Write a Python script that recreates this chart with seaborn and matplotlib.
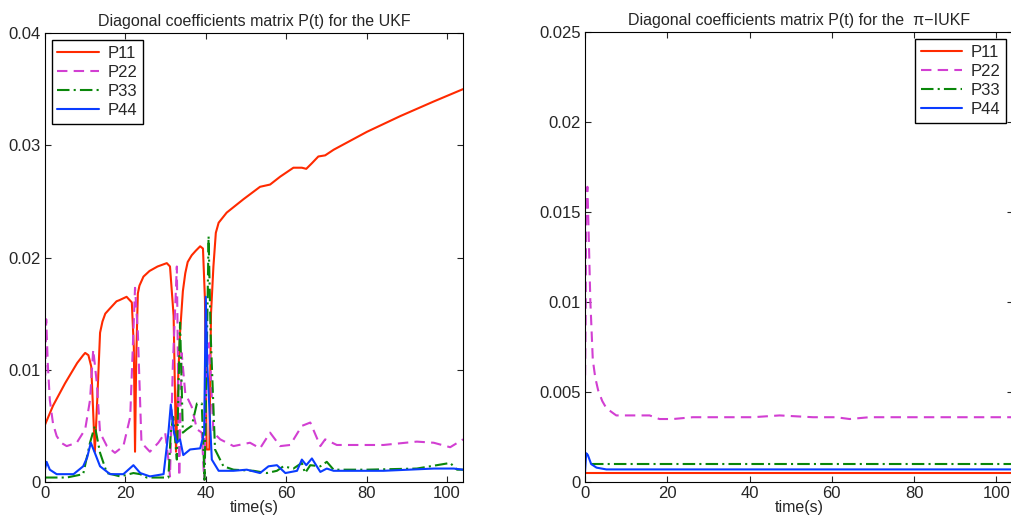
import matplotlib
matplotlib.use("Agg")
import matplotlib.pyplot as plt
import seaborn as sns

# UKF (left panel)
t_p11 = [0, 2, 5, 8, 9.5, 10, 10.8, 11.5, 11.9, 12.4, 13, 13.7, 14.3, 15, 16, 17.8, 18.5, 20.3,
         21.6, 22.1, 22.4, 22.7, 23.1, 23.5, 24.5, 26, 28, 30.3, 31.1, 32, 32.6, 33.1, 33.6,
         34.3, 34.9, 35.5, 36.5, 37.5, 38.6, 39.3, 39.8, 40.2, 40.9, 41.3, 41.9, 42.5, 43.2,
         45.2, 49.4, 53.5, 56, 58.5, 61.8, 63.9, 65, 66.4, 68, 69.7, 71.8, 80.1, 88.4, 96.7, 104]
p11 = [0.0051, 0.0068, 0.0088, 0.0106, 0.0113, 0.0115, 0.0113, 0.0103, 0.0070, 0.0027, 0.0073,
       0.0133, 0.0143, 0.0150, 0.0154, 0.0161, 0.0162, 0.0165, 0.0160, 0.0120, 0.0027, 0.0110,
       0.0168, 0.0175, 0.0183, 0.0188, 0.0192, 0.0195, 0.0192, 0.0148, 0.0027, 0.0090, 0.0133,
       0.0170, 0.0186, 0.0196, 0.0202, 0.0206, 0.0210, 0.0208, 0.0162, 0.0029, 0.0029, 0.0150,
       0.0192, 0.0222, 0.0231, 0.0240, 0.0252, 0.0263, 0.0265, 0.0272, 0.0280, 0.0280, 0.0279,
       0.0284, 0.0290, 0.0291, 0.0296, 0.0312, 0.0326, 0.0339, 0.0350]

t_p22 = [0, 0.3, 0.7, 1.2, 2.0, 2.9, 4, 5.4, 7.9, 10, 11.2, 12, 12.9, 13.7, 15.4, 17.4, 19.5,
         21.2, 22.4, 23.1, 24, 26.1, 28.2, 29.9, 30.7, 31.1, 31.8, 32.8, 33.4, 34, 34.9, 36.5,
         37.8, 39, 39.6, 40.1, 40.9, 41.9, 43.6, 46.9, 51, 53.5, 56, 58.5, 61, 63.9, 66, 68.5,
         69.7, 72.6, 75.9, 84.2, 92.5, 96.7, 100.8, 104]
p22 = [0.0080, 0.0145, 0.0105, 0.0073, 0.0052, 0.0041, 0.0035, 0.0032, 0.0035, 0.0047, 0.0073,
       0.0118, 0.0088, 0.0044, 0.0032, 0.0026, 0.0032, 0.0058, 0.0173, 0.0133, 0.0035, 0.0027,
       0.0035, 0.0044, 0.0020, 0.0005, 0.0103, 0.0192, 0.0005, 0.0115, 0.0079, 0.0067, 0.0047,
       0.0044, 0.0002, 0.0094, 0.0124, 0.0044, 0.0038, 0.0032, 0.0035, 0.0030, 0.0044, 0.0032,
       0.0033, 0.0050, 0.0053, 0.0032, 0.0038, 0.0033, 0.0033, 0.0033, 0.0036, 0.0035, 0.0031,
       0.0038]

t_p33 = [0, 5.4, 9.5, 11.2, 12.4, 13.7, 15.4, 18.7, 22, 23.7, 25.3, 30.7, 31.3, 31.9, 32.8, 33.6,
         34.3, 35.3, 36.5, 37.8, 39, 39.7, 40.2, 40.7, 41.2, 42.3, 44.4, 46.9, 51.9, 55.2, 57.7,
         59.3, 61.8, 63.9, 64.7, 66, 68.5, 70.1, 71.8, 80.1, 92.5, 100.8, 102.5, 104]
p33 = [0.0004, 0.0004, 0.0007, 0.0035, 0.0050, 0.0026, 0.0008, 0.0005, 0.0008, 0.0007, 0.0004,
       0.0004, 0.0044, 0.0058, 0.0020, 0.0142, 0.0044, 0.0047, 0.0050, 0.0070, 0.0070, 0.0002,
       0.0103, 0.0219, 0.0133, 0.0029, 0.0014, 0.0011, 0.0010, 0.0008, 0.0010, 0.0014, 0.0012,
       0.0017, 0.0008, 0.0015, 0.0014, 0.0018, 0.0011, 0.0011, 0.0012, 0.0017, 0.0011, 0.0011]

t_p44 = [0, 0.4, 1.2, 2.9, 7.1, 9.5, 10.5, 11.4, 12.4, 13.7, 16.2, 19.5, 22, 23.7, 26.1, 29.5,
         30.7, 31.3, 32.1, 32.8, 33.6, 34.4, 36.1, 38.6, 39.6, 40, 40.4, 41.5, 43.2, 46.9, 50.2,
         53.5, 55.6, 57.7, 59.8, 62.7, 63.9, 65, 66.4, 68.5, 70.1, 71.8, 84.2, 96.7, 101.7, 104]
p44 = [0.0011, 0.0018, 0.0011, 0.0007, 0.0007, 0.0014, 0.0022, 0.0035, 0.0026, 0.0014, 0.0007,
       0.0007, 0.0015, 0.0008, 0.0005, 0.0007, 0.0044, 0.0069, 0.0044, 0.0035, 0.0038, 0.0024,
       0.0029, 0.0030, 0.0044, 0.0165, 0.0103, 0.0020, 0.0010, 0.0010, 0.0011, 0.0008, 0.0014,
       0.0015, 0.0008, 0.0010, 0.0020, 0.0015, 0.0021, 0.0009, 0.0012, 0.0010, 0.0010, 0.0012,
       0.0012, 0.0011]

# pi-IUKF (right panel)
t_r11 = [0, 104]
r11 = [0.0005, 0.0005]
t_r22 = [0, 0.16, 0.3, 0.6, 0.9, 1.3, 1.9, 2.5, 3.2, 4.2, 5.2, 7.6, 10.9, 15.7, 18.1, 21.4,
         26.2, 32.7, 40.8, 47.3, 55.4, 61, 64.3, 69.1, 81.3, 100.7, 104]
r22 = [0.0050, 0.0090, 0.0157, 0.0164, 0.0138, 0.0101, 0.0068, 0.0058, 0.0051, 0.0045, 0.0041,
       0.0037, 0.0037, 0.0037, 0.0035, 0.0035, 0.0036, 0.0036, 0.0036, 0.0037, 0.0036, 0.0036,
       0.0035, 0.0036, 0.0036, 0.0036, 0.0036]
t_r33 = [1.5, 104]
r33 = [0.001, 0.001]
t_r44 = [0, 0.3, 0.7, 1.5, 2.8, 5.2, 8.4, 104]
r44 = [0.0005, 0.0016, 0.0015, 0.0010, 0.0008, 0.0007, 0.0007, 0.0007]

names = ["P11", "P22", "P33", "P44"]
colors = ["#ff2a00", "#d23fd2", "#0a870a", "#0a3cff"]
styles = ["-", (0, (5, 3)), (0, (6, 2, 1, 2)), "-"]

sns.set_style("ticks")
plt.rcParams["font.family"] = ["Liberation Sans", "DejaVu Sans"]

fig = plt.figure(figsize=(10.11, 5.29), dpi=100)
ax1 = fig.add_axes([0.0445, 0.0888, 0.4135, 0.8488])
ax2 = fig.add_axes([0.5786, 0.0888, 0.4233, 0.8507])

left = [(t_p11, p11), (t_p22, p22), (t_p33, p33), (t_p44, p44)]
right = [(t_r11, r11), (t_r22, r22), (t_r33, r33), (t_r44, r44)]

for ax, series in [(ax1, left), (ax2, right)]:
    for (t, v), name, c, ls in zip(series, names, colors, styles):
        sns.lineplot(x=t, y=v, ax=ax, color=c, linestyle=ls, linewidth=1.5,
                     label=name, sort=False, estimator=None)

ax1.set_xlim(0, 104)
ax1.set_ylim(0, 0.04)
ax1.set_yticks([0, 0.01, 0.02, 0.03, 0.04], ["0", "0.01", "0.02", "0.03", "0.04"])
ax1.set_title("Diagonal coefficients matrix P(t) for the UKF", fontsize=11.5, pad=5)

ax2.set_xlim(0, 104)
ax2.set_ylim(0, 0.025)
ax2.set_yticks([0, 0.005, 0.01, 0.015, 0.02, 0.025],
               ["0", "0.005", "0.01", "0.015", "0.02", "0.025"])
ax2.set_title("Diagonal coefficients matrix P(t) for the  π−IUKF", fontsize=11.5, pad=5)

for ax in (ax1, ax2):
    ax.set_xticks([0, 20, 40, 60, 80, 100], ["0", "20", "40", "60", "80", "100"])
    ax.set_xlabel("time(s)", fontsize=11.5, labelpad=-1)
    ax.set_ylabel("")
    ax.tick_params(direction="in", top=True, right=True, labelsize=12, length=4,
                   width=0.8, pad=3)
    for s in ax.spines.values():
        s.set_visible(True)
        s.set_linewidth(0.8)
        s.set_color("black")

leg_kw = dict(fontsize=12, fancybox=False, framealpha=1, edgecolor="black",
              handlelength=2.5, labelspacing=0.25, handletextpad=0.5,
              borderpad=0.35, borderaxespad=0.4)
leg1 = ax1.legend(loc="upper left", **leg_kw)
leg2 = ax2.legend(loc="upper right", **leg_kw)
for leg in (leg1, leg2):
    leg.get_frame().set_linewidth(1.0)

fig.savefig("out.png", dpi=100)
